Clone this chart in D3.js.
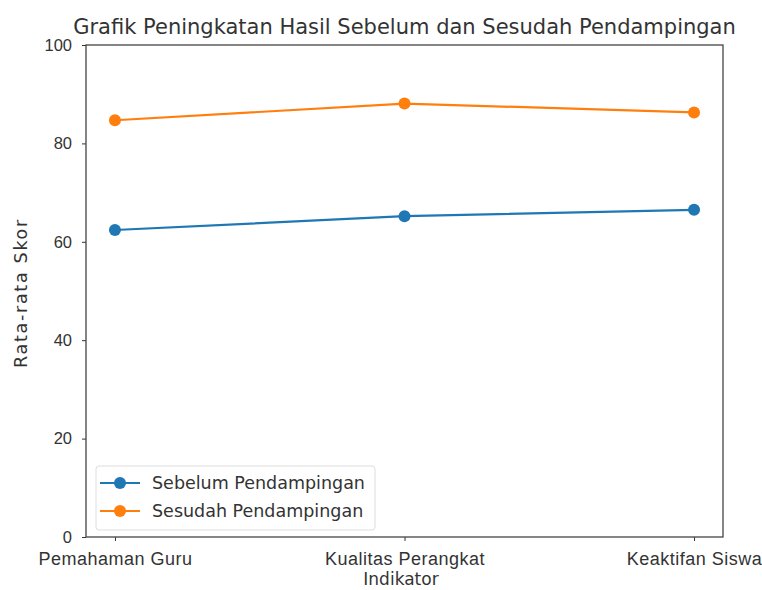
<!DOCTYPE html>
<html>
<head>
<meta charset="utf-8">
<script src="https://cdn.jsdelivr.net/npm/d3@7"></script>
<style>
  body { margin: 0; background: #fff; }
  svg { font-family: "DejaVu Sans", sans-serif; }
</style>
</head>
<body>
<div id="chart"></div>
<script>
// data
var indikator = ["Pemahaman Guru", "Kualitas Perangkat", "Keaktifan Siswa"];
var sebelum = [62.4, 65.2, 66.5];
var sesudah = [84.7, 88.1, 86.3];
var yTicks = [0, 20, 40, 60, 80, 100];

var width = 762, height = 590;
var margin = { top: 45, right: 39, bottom: 53, left: 86 };

var svg = d3.select("#chart").append("svg")
    .attr("width", width)
    .attr("height", height);

// x like matplotlib: 5% padding on each side of 0..2
var x = d3.scaleLinear()
    .domain([-0.1, indikator.length - 1 + 0.1])
    .range([margin.left, width - margin.right]);

var y = d3.scaleLinear()
    .domain([0, 100])
    .range([height - margin.bottom, margin.top]);

var series = [
  { name: "Sebelum Pendampingan", values: sebelum, color: "#1f77b4" },
  { name: "Sesudah Pendampingan", values: sesudah, color: "#ff7f0e" }
];

// axes
var xAxis = svg.append("g")
    .attr("transform", `translate(0,${height - margin.bottom})`)
    .call(d3.axisBottom(x)
      .tickValues(d3.range(indikator.length))
      .tickFormat(i => indikator[i])
      .tickSize(4).tickPadding(11).tickSizeOuter(0));
xAxis.selectAll("text").style("font-size", "18px").style("letter-spacing", "0.5px");

var yAxis = svg.append("g")
    .attr("transform", `translate(${margin.left},0)`)
    .call(d3.axisLeft(y).tickValues(yTicks).tickSize(4).tickPadding(10).tickSizeOuter(0));
yAxis.selectAll("text").style("font-size", "16.5px");

[xAxis, yAxis].forEach(g => {
  g.selectAll("text").attr("fill", "#333");
  g.selectAll(".tick line").attr("stroke", "#333");
  g.select(".domain").remove();
});

// frame
svg.append("rect")
    .attr("x", margin.left)
    .attr("y", margin.top)
    .attr("width", width - margin.left - margin.right)
    .attr("height", height - margin.top - margin.bottom)
    .attr("fill", "none")
    .attr("stroke", "#444")
    .attr("stroke-width", 1.3);

// lines + markers
var line = d3.line()
    .x((d, i) => x(i))
    .y(d => y(d));

series.forEach(s => {
  svg.append("path")
      .datum(s.values)
      .attr("fill", "none")
      .attr("stroke", s.color)
      .attr("stroke-width", 2.2)
      .attr("d", line);
  svg.append("g").selectAll("circle")
      .data(s.values)
      .join("circle")
      .attr("cx", (d, i) => x(i))
      .attr("cy", d => y(d))
      .attr("r", 6)
      .attr("fill", s.color);
});

// title and axis labels
svg.append("text")
    .attr("x", (margin.left + width - margin.right) / 2)
    .attr("y", 34)
    .attr("text-anchor", "middle")
    .style("font-size", "21px")
    .attr("fill", "#333")
    .text("Grafik Peningkatan Hasil Sebelum dan Sesudah Pendampingan");

svg.append("text")
    .attr("x", 401)
    .attr("y", 585)
    .attr("text-anchor", "middle")
    .style("font-size", "17px")
    .attr("fill", "#333")
    .text("Indikator");

svg.append("text")
    .attr("transform", `translate(27,${(margin.top + height - margin.bottom) / 2 + 2}) rotate(-90)`)
    .attr("text-anchor", "middle")
    .style("font-size", "17.5px")
    .style("letter-spacing", "1.7px")
    .attr("fill", "#333")
    .text("Rata-rata Skor");

// legend
var lg = svg.append("g").attr("transform", `translate(${margin.left + 10},${height - margin.bottom - 71})`);
lg.append("rect")
    .attr("width", 279).attr("height", 64)
    .attr("rx", 3)
    .attr("fill", "#fff").attr("fill-opacity", 0.8)
    .attr("stroke", "#ddd");
series.forEach((s, i) => {
  var row = lg.append("g").attr("transform", `translate(4,${17 + i * 28})`);
  row.append("line").attr("x1", 0).attr("x2", 40)
      .attr("stroke", s.color).attr("stroke-width", 2.2);
  row.append("circle").attr("cx", 20).attr("r", 6).attr("fill", s.color);
  row.append("text").attr("x", 52).attr("dy", "0.35em")
      .style("font-size", "17.5px").attr("fill", "#333")
      .text(s.name);
});
</script>
</body>
</html>
